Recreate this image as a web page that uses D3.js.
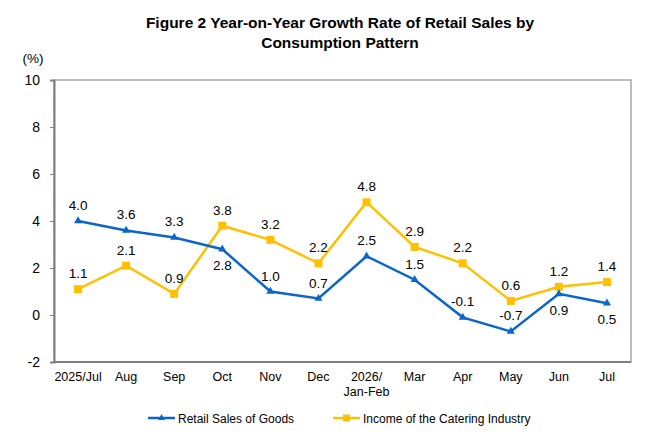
<!DOCTYPE html>
<html><head><meta charset="utf-8">
<script src="https://cdn.jsdelivr.net/npm/d3@7"></script>
<style>body{margin:0;background:#fff}svg{display:block;font-family:Arial,"Liberation Sans",sans-serif}</style>
</head><body><svg id="c" width="660" height="440"></svg>
<script>
const categories = ["2025/Jul","Aug","Sep","Oct","Nov","Dec","2026/\nJan-Feb","Mar","Apr","May","Jun","Jul"];
const retailGoods = [4.0,3.6,3.3,2.8,1.0,0.7,2.5,1.5,-0.1,-0.7,0.9,0.5];
const catering = [1.1,2.1,0.9,3.8,3.2,2.2,4.8,2.9,2.2,0.6,1.2,1.4];
const retailLabelBelow = [false,false,false,true,false,false,false,false,false,false,true,true];
const yTicks = [-2,0,2,4,6,8,10];
const seriesNames = ["Retail Sales of Goods","Income of the Catering Industry"];

const svg = d3.select("#c");
const L=54,R=631,T=80,B=362;
const x = d3.scaleBand().domain(categories.map((d,i)=>i)).range([L,R]);
const xc = i => x(i)+x.bandwidth()/2;
const y = d3.scaleLinear().domain([-2,10]).range([B,T]);
const blue="#0a66c8", yellow="#ffc000";

// title
const title = svg.append("text").attr("text-anchor","middle").attr("font-weight","bold").attr("font-size",15.5).attr("fill","#000");
title.append("tspan").attr("x",340).attr("y",28).text("Figure 2 Year-on-Year Growth Rate of Retail Sales by");
title.append("tspan").attr("x",340).attr("y",48).text("Consumption Pattern");

// frame
svg.append("rect").attr("x",L).attr("y",T).attr("width",R-L).attr("height",B-T).attr("fill","none").attr("stroke","#a6a6a6").attr("stroke-width",1.5);

// y axis
const ya = svg.append("g").attr("transform",`translate(${L},0)`).call(d3.axisLeft(y).tickValues(yTicks).tickSize(4).tickPadding(10).tickFormat(d=>String(d)));
ya.select(".domain").attr("stroke","#7f7f7f").attr("stroke-width",2);
ya.selectAll(".tick line").attr("stroke","#7f7f7f");
ya.selectAll("text").attr("font-size",14).attr("fill","#000").attr("font-family","Arial,'Liberation Sans',sans-serif");
svg.append("line").attr("x1",L).attr("x2",R).attr("y1",B).attr("y2",B).attr("stroke","#7f7f7f").attr("stroke-width",2);

svg.append("text").attr("x",33).attr("y",63).attr("text-anchor","middle").attr("font-size",13.5).text("(%)");

// x labels
categories.forEach((c,i)=>{
  const lines=c.split("\n");
  const t=svg.append("text").attr("text-anchor","middle").attr("font-size",12.5).attr("fill","#000");
  lines.forEach((ln,j)=>t.append("tspan").attr("x",xc(i)).attr("y",381+j*15).text(ln));
});

const line = d3.line().x((d,i)=>xc(i)).y(d=>y(d));
// yellow series
svg.append("path").datum(catering).attr("d",line).attr("fill","none").attr("stroke",yellow).attr("stroke-width",2.5);
svg.selectAll(".sq").data(catering).join("rect").attr("x",(d,i)=>xc(i)-4).attr("y",d=>y(d)-4).attr("width",8).attr("height",8).attr("fill",yellow);
// blue series
svg.append("path").datum(retailGoods).attr("d",line).attr("fill","none").attr("stroke",blue).attr("stroke-width",2.5);
const tri = d3.symbol().type(d3.symbolTriangle).size(28);
svg.selectAll(".tri").data(retailGoods).join("path").attr("d",tri).attr("transform",(d,i)=>`translate(${xc(i)},${y(d)})`).attr("fill",blue);

// labels
svg.selectAll(".lc").data(catering).join("text").attr("x",(d,i)=>xc(i)).attr("y",d=>y(d)-11).attr("text-anchor","middle").attr("font-size",13.5).attr("fill","#000").text(d=>d.toFixed(1));
svg.selectAll(".lr").data(retailGoods).join("text").attr("x",(d,i)=>xc(i)).attr("y",(d,i)=>retailLabelBelow[i]?y(d)+21:y(d)-11).attr("text-anchor","middle").attr("font-size",13.5).attr("fill","#000").text(d=>d.toFixed(1));

// legend
const lg=[{x:148,c:blue,n:seriesNames[0],m:"tri"},{x:333,c:yellow,n:seriesNames[1],m:"sq"}];
lg.forEach(l=>{
  svg.append("line").attr("x1",l.x).attr("x2",l.x+27).attr("y1",418).attr("y2",418).attr("stroke",l.c).attr("stroke-width",2.5);
  if(l.m==="tri") svg.append("path").attr("d",d3.symbol().type(d3.symbolTriangle).size(20)).attr("transform",`translate(${l.x+13.5},418)`).attr("fill",l.c);
  else svg.append("rect").attr("x",l.x+10).attr("y",414.5).attr("width",7).attr("height",7).attr("fill",l.c);
  svg.append("text").attr("x",l.x+30).attr("y",422.5).attr("font-size",12).attr("fill","#000").text(l.n);
});
</script></body></html>
